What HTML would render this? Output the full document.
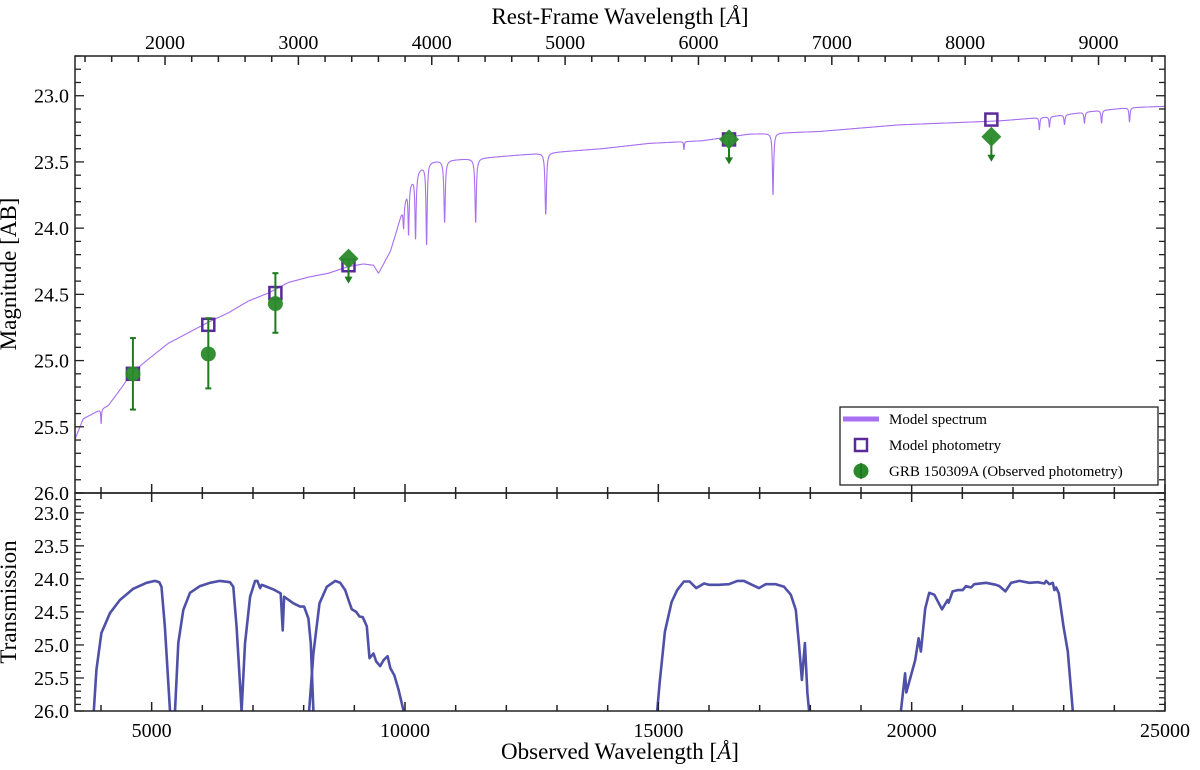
<!DOCTYPE html>
<html><head><meta charset="utf-8"><style>
html,body{margin:0;padding:0;background:#fff;}
svg{display:block;font-family:"Liberation Serif",serif;}
</style></head><body>
<svg id="chart" width="1200" height="770" xmlns="http://www.w3.org/2000/svg">
<defs>
<clipPath id="clipTop"><rect x="75" y="56" width="1090" height="437"/></clipPath>
<clipPath id="clipBot"><rect x="75" y="493" width="1090" height="218"/></clipPath>
</defs>
<g id="spec" clip-path="url(#clipTop)"></g>
<g id="filt" clip-path="url(#clipBot)"></g>
<g id="phot"></g>
<g id="axes"></g>
<text x="16" y="274" font-size="23" text-anchor="middle" transform="rotate(-90 16 274)">Magnitude [AB]</text>
<text x="16" y="602" font-size="23" text-anchor="middle" transform="rotate(-90 16 602)">Transmission</text>
<text x="620" y="759" font-size="23" text-anchor="middle">Observed Wavelength [<tspan font-style="italic">Å</tspan>]</text>
<text x="620" y="24" font-size="23" text-anchor="middle">Rest-Frame Wavelength [<tspan font-style="italic">Å</tspan>]</text>
<g>
<rect x="840" y="407" width="318" height="78" fill="#fff" stroke="#222" stroke-width="1.3"/>
<line x1="843" y1="419" x2="879" y2="419" stroke="#a86ff0" stroke-width="5"/>
<text x="889" y="424" font-size="15">Model spectrum</text>
<rect x="855" y="439" width="12" height="12" fill="none" stroke="#5a2a9a" stroke-width="2.5"/>
<text x="889" y="450" font-size="15">Model photometry</text>
<circle cx="861" cy="471" r="7.5" fill="#2a8a2a"/>
<line x1="861" y1="463" x2="861" y2="479" stroke="#1f701f" stroke-width="1.5"/>
<text x="889" y="476" font-size="15">GRB 150309A (Observed photometry)</text>
</g>
</svg>
<script>
// ---- data ----
const contWave = [3470,3648,3944,4142,4339,4616,4932,5327,5723,6118,6513,6909,7304,7699,8094,8490,8885,9181,9379,9478,9577,9715,9833,9972,10071,10268,10466,10664,11513,12837,13885,14814,15861,16790,18174,19755,21731,22700,23500,24300,25000];
const contMag  = [25.61,25.44,25.38,25.34,25.24,25.09,24.99,24.87,24.79,24.71,24.64,24.55,24.49,24.41,24.37,24.34,24.29,24.27,24.28,24.34,24.27,24.17,24.02,23.83,23.68,23.56,23.50,23.49,23.47,23.43,23.40,23.36,23.34,23.29,23.27,23.22,23.19,23.16,23.12,23.09,23.08];
const lineWave  = [4003,9972,10071,10209,10426,10782,11395,12778,15505,17264,22521,22719,23016,23411,23747,24300];
const lineDepth = [25.48,24.00,24.05,24.08,24.13,23.96,23.96,23.90,23.41,23.75,23.26,23.24,23.22,23.21,23.21,23.20];
const lineWidth = [8,12,12,14,14,16,16,16,8,14,10,10,12,12,12,12];

const obsWave = [4630,6118,7442];
const obsMag  = [25.10,24.95,24.57];
const obsErrLo= [0.27,0.26,0.22];
const obsErrHi= [0.27,0.27,0.23];
const ulWave  = [8885,16395,21573];
const ulMag   = [24.23,23.33,23.31];
const modelWave = [4630,6118,7442,8885,16395,21573];
const modelMag  = [25.10,24.73,24.49,24.28,23.33,23.18];

const f1w=[3700,3859,3910,4009,4175,4373,4636,4899,5065,5150,5195,5262,5361,5420];
const f1v=[26.8,26.0,25.38,24.82,24.52,24.32,24.15,24.06,24.03,24.05,24.12,24.73,26.0,26.8];
const f2w=[5420,5460,5525,5624,5756,5954,6152,6349,6547,6612,6677,6776,6820];
const f2v=[26.8,26.0,24.97,24.47,24.21,24.11,24.06,24.03,24.05,24.12,24.73,26.0,26.8];
const f3w=[6740,6776,6843,6942,7041,7086,7140,7172,7239,7403,7547,7587,7614,7798,7930,8009,8094,8140,8193,8230];
const f3v=[26.8,26.0,24.98,24.27,24.03,24.03,24.14,24.09,24.11,24.16,24.22,24.78,24.27,24.37,24.42,24.42,24.60,24.98,26.0,26.8];
const f4w=[8070,8108,8193,8312,8456,8622,8721,8820,8885,8950,9037,9102,9167,9246,9300,9379,9432,9511,9577,9656,9709,9788,9873,9972,10010];
const f4v=[26.8,26.0,25.13,24.37,24.12,24.03,24.06,24.17,24.32,24.46,24.50,24.57,24.58,24.72,25.20,25.13,25.25,25.32,25.23,25.17,25.35,25.46,25.68,26.0,26.6];
const f5w=[14940,14978,15025,15130,15262,15373,15505,15618,15748,15901,16000,16196,16394,16559,16691,16823,16987,17120,17318,17482,17614,17713,17780,17833,17892,17943,17976,18010];
const f5v=[26.8,26.0,25.58,24.80,24.35,24.17,24.04,24.04,24.14,24.07,24.09,24.09,24.08,24.03,24.03,24.08,24.14,24.08,24.08,24.12,24.24,24.47,25.03,25.53,24.97,25.73,26.0,26.6];
const f6w=[19750,19788,19870,19895,20070,20136,20183,20268,20347,20446,20598,20709,20729,20808,20907,21006,21073,21172,21237,21469,21665,21731,21850,21962,22126,22323,22487,22620,22654,22719,22785,22818,22852,22903,22996,23081,23180,23220];
const f6v=[26.8,26.0,25.43,25.72,25.23,24.90,25.10,24.45,24.21,24.24,24.46,24.32,24.36,24.19,24.17,24.17,24.11,24.13,24.08,24.06,24.09,24.11,24.19,24.06,24.03,24.06,24.05,24.07,24.03,24.08,24.06,24.17,24.13,24.22,24.72,25.10,26.0,26.8];
const filterW=[f1w,f2w,f3w,f4w,f5w,f6w];
const filterV=[f1v,f2v,f3v,f4v,f5v,f6v];

const xTicksMajor=[5000,10000,15000,20000,25000];
const restTicksMajor=[2000,3000,4000,5000,6000,7000,8000,9000];
const yTicksMajor=[23.0,23.5,24.0,24.5,25.0,25.5,26.0];
const zPlus1=2.632;

// ---- scales ----
const XMIN=3487,XMAX=25000,PL=75,PR=1165;
const X=l=>PL+(l-XMIN)/(XMAX-XMIN)*(PR-PL);
const YT=m=>56+(m-22.7)/3.3*(493-56);
const YB=m=>493+(m-22.7)/3.3*(711-493);
const NS="http://www.w3.org/2000/svg";
function mk(tag,attrs,parent){const e=document.createElementNS(NS,tag);for(const k in attrs)e.setAttribute(k,attrs[k]);parent.appendChild(e);return e;}

// spectrum
function interp(l){
  for(let i=0;i<contWave.length-1;i++){if(l<=contWave[i+1]){const t=(l-contWave[i])/(contWave[i+1]-contWave[i]);return contMag[i]+t*(contMag[i+1]-contMag[i]);}}
  return contMag[contMag.length-1];
}
let d="";
for(let l=3460;l<=25000;l+=4){
  let c=interp(l),m=c;
  for(let j=0;j<lineWave.length;j++){const u=(l-lineWave[j])/lineWidth[j];const c0=interp(lineWave[j]);m+= (lineDepth[j]-c0)/(1+u*u);}
  d+=(d?"L":"M")+X(l).toFixed(1)+","+YT(m).toFixed(1);
}
const sp=mk("path",{d:d,fill:"none",stroke:"#a86ff0","stroke-width":1.1},document.getElementById("spec"));



// filters
const fg=document.getElementById("filt");
for(let k=0;k<filterW.length;k++){
  let p="";filterW[k].forEach((w,i)=>{p+=(i?"L":"M")+X(w).toFixed(1)+","+YB(filterV[k][i]).toFixed(1);});
  const e=mk("path",{d:p,fill:"none",stroke:"#4f50a8","stroke-width":2.6,"stroke-linejoin":"round"},fg);
  
  
}

// photometry
const pg=document.getElementById("phot");
const G="#2a8a2a",GL="#1f7a1f";
modelWave.forEach((w,i)=>{
  const e=mk("rect",{x:X(w)-6,y:YT(modelMag[i])-6,width:12,height:12,fill:"none",stroke:"#5a2a9a","stroke-width":2.5},pg);
  
  
});
obsWave.forEach((w,i)=>{
  const x=X(w),y=YT(obsMag[i]),y1=YT(obsMag[i]-obsErrHi[i]),y2=YT(obsMag[i]+obsErrLo[i]);
  mk("line",{x1:x,y1:y1,x2:x,y2:y2,stroke:GL,"stroke-width":2},pg);
  mk("line",{x1:x-3,y1:y1,x2:x+3,y2:y1,stroke:GL,"stroke-width":2},pg);
  mk("line",{x1:x-3,y1:y2,x2:x+3,y2:y2,stroke:GL,"stroke-width":2},pg);
  const c=mk("circle",{cx:x,cy:y,r:7.5,fill:G,"fill-opacity":0.95},pg);
  
  
});
ulWave.forEach((w,i)=>{
  const x=X(w),y=YT(ulMag[i]);
  mk("line",{x1:x,y1:y,x2:x,y2:y+20,stroke:GL,"stroke-width":2},pg);
  mk("path",{d:`M${x-4},${y+18}L${x+4},${y+18}L${x},${y+25}Z`,fill:GL},pg);
  const e=mk("path",{d:`M${x},${y-10}L${x+10},${y}L${x},${y+10}L${x-10},${y}Z`,fill:G,"fill-opacity":0.95},pg);
  
  
});

// axes
const ag=document.getElementById("axes");
const K="#222";
[[56,493],[493,711]].forEach(([t,b],pi)=>{
  const r=mk("rect",{x:PL,y:t,width:PR-PL,height:b-t,fill:"none",stroke:K,"stroke-width":1.5},ag);
  
  
  const Y=pi?YB:YT;
  // x ticks
  for(let l=4000;l<=25000;l+=1000){
    const x=X(l),len=(l%5000===0)?9:6;
    mk("line",{x1:x,y1:b,x2:x,y2:b-len,stroke:K,"stroke-width":1.5},ag);
    if(pi===1||true){ if(!(pi===0)) mk("line",{x1:x,y1:t,x2:x,y2:t+len,stroke:K,"stroke-width":1.5},ag);}
  }
  // y ticks
  for(let i=0;i<=33;i++){
    const m=22.7+i*0.1;const y=Y(m);
    const major=Math.abs((m*2)-Math.round(m*2))<1e-6;
    const len=major?9:6;
    mk("line",{x1:PL,y1:y,x2:PL+len,y2:y,stroke:K,"stroke-width":1.3},ag);
    mk("line",{x1:PR,y1:y,x2:PR-len,y2:y,stroke:K,"stroke-width":1.3},ag);
  }
  yTicksMajor.forEach(m=>{
    const e=mk("text",{x:PL-6,y:Y(m)+7,"font-size":20,"text-anchor":"end"},ag);
    e.textContent=m.toFixed(1);
    
    
  });
});
xTicksMajor.forEach(l=>{
  const e=mk("text",{x:X(l),y:737,"font-size":20,"text-anchor":"middle"},ag);
  e.textContent=l;
  
  
});
// top rest-frame ticks
for(let r=1400;r<=9600;r+=200){
  const x=X(r*zPlus1);if(x<PL||x>PR)continue;
  const len=(r%1000===0)?9:6;
  mk("line",{x1:x,y1:56,x2:x,y2:56+len,stroke:K,"stroke-width":1.5},ag);
}
restTicksMajor.forEach(r=>{
  const e=mk("text",{x:X(r*zPlus1),y:49,"font-size":20,"text-anchor":"middle"},ag);
  e.textContent=r;
  
  
});
</script>
</body></html>
